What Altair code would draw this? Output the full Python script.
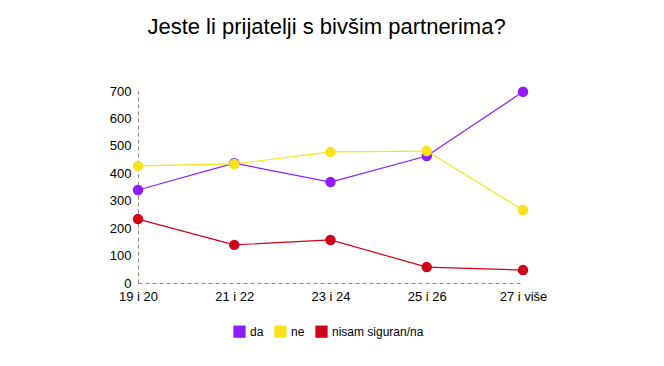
import altair as alt
import pandas as pd

categories = ["19 i 20", "21 i 22", "23 i 24", "25 i 26", "27 i više"]
series_names = ["da", "ne", "nisam siguran/na"]
da = [339, 437, 368, 463, 697]
ne = [427, 434, 478, 481, 266]
nisam = [233, 139, 157, 58, 47]
colors = ["#8f1cff", "#f7e21c", "#d0021b"]
y_ticks = [0, 100, 200, 300, 400, 500, 600, 700]

rows = []
for name, vals in zip(series_names, [da, ne, nisam]):
    for c, v in zip(categories, vals):
        rows.append({"kat": c, "serija": name, "vrijednost": v,
                     "red": series_names.index(name)})
df = pd.DataFrame(rows)

x = alt.X("kat:N", sort=categories, title=None,
          scale=alt.Scale(type="point", padding=0),
          axis=alt.Axis(labelAngle=0, domainDash=[4, 3], domainColor="#888888",
                        ticks=False, labelFontSize=13, labelColor="#000000",
                        labelFont="Liberation Sans", labelPadding=7))
y = alt.Y("vrijednost:Q", title=None,
          scale=alt.Scale(domain=[0, 700], nice=False),
          axis=alt.Axis(values=y_ticks, grid=False, domainDash=[4, 3],
                        domainColor="#888888", ticks=False, labelFontSize=13,
                        labelColor="#000000", labelFont="Liberation Sans",
                        labelPadding=7))
color = alt.Color("serija:N", sort=series_names,
                  scale=alt.Scale(domain=series_names, range=colors),
                  legend=alt.Legend(title=None, orient="none", direction="horizontal",
                                    legendX=95, legendY=234, symbolType="square",
                                    symbolSize=150, symbolStrokeWidth=0,
                                    labelFontSize=12, labelFont="Liberation Sans",
                                    labelColor="#000000", columnPadding=10))

base = alt.Chart(df).encode(x=x, y=y, color=color, order=alt.Order("red:Q"))
lines = base.mark_line(strokeWidth=1.2).encode(detail="serija:N")
points = base.mark_circle(size=110, opacity=1)

chart = alt.layer(lines, points).properties(
    width=385, height=192,
    title=alt.TitleParams("Jeste li prijatelji s bivšim partnerima?",
                          fontSize=22, font="Liberation Sans", fontWeight="normal",
                          color="#000000", anchor="middle", offset=46, dx=-4),
    autosize=alt.AutoSizeParams(type="none"),
    padding={"left": 130, "top": 83, "right": 100, "bottom": 60},
).configure_view(stroke=None)

chart.save("out.html", embed_options={"renderer": "svg", "actions": False})
